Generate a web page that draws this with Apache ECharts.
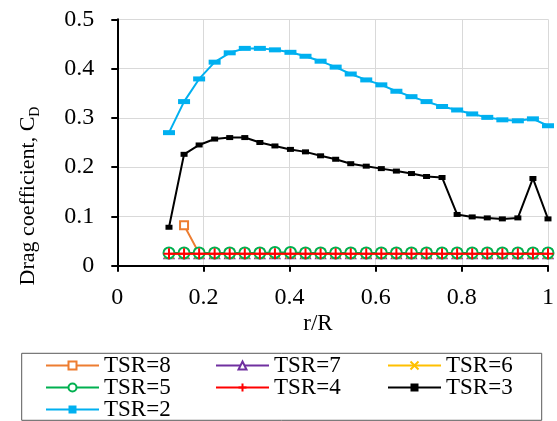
<!DOCTYPE html>
<html>
<head>
<meta charset="utf-8">
<script src="https://cdn.jsdelivr.net/npm/echarts@6/dist/echarts.min.js"></script>
<style>
  html, body { margin: 0; padding: 0; background: #fff; }
  #chart { width: 557px; height: 421px; }
</style>
</head>
<body>
<div id="chart"></div>
<script>
// Radial stations along the blade (r/R)
const rR = [0.12, 0.155, 0.19, 0.226, 0.261, 0.296, 0.331, 0.366, 0.402, 0.437,
            0.472, 0.507, 0.542, 0.578, 0.613, 0.648, 0.683, 0.718, 0.754, 0.789,
            0.824, 0.859, 0.894, 0.930, 0.965, 1.0];

// Drag coefficient per tip speed ratio
const tsr8 = [null, 0.082, 0.025, 0.025, 0.025, 0.025, 0.025, 0.025, 0.025, 0.025,
              0.025, 0.025, 0.025, 0.025, 0.025, 0.025, 0.025, 0.025, 0.025, 0.025,
              0.025, 0.025, 0.025, 0.025, 0.025, 0.025];
const tsr7 = [0.024, 0.024, 0.024, 0.024, 0.024, 0.024, 0.024, 0.024, 0.024, 0.024,
              0.024, 0.024, 0.024, 0.024, 0.024, 0.024, 0.024, 0.024, 0.024, 0.024,
              0.024, 0.024, 0.024, 0.024, 0.024, 0.024];
const tsr6 = [0.024, 0.024, 0.024, 0.024, 0.024, 0.024, 0.024, 0.024, 0.024, 0.024,
              0.024, 0.024, 0.024, 0.024, 0.024, 0.024, 0.024, 0.024, 0.024, 0.024,
              0.024, 0.024, 0.024, 0.024, 0.024, 0.024];
const tsr5 = [0.026, 0.026, 0.026, 0.026, 0.026, 0.026, 0.026, 0.027, 0.027, 0.026,
              0.026, 0.026, 0.026, 0.026, 0.026, 0.026, 0.026, 0.026, 0.026, 0.026,
              0.026, 0.026, 0.026, 0.026, 0.026, 0.026];
const tsr4 = [0.024, 0.024, 0.024, 0.024, 0.024, 0.024, 0.024, 0.024, 0.024, 0.024,
              0.024, 0.024, 0.024, 0.024, 0.024, 0.024, 0.024, 0.024, 0.024, 0.024,
              0.024, 0.024, 0.024, 0.024, 0.024, 0.024];
const tsr3 = [0.078, 0.226, 0.245, 0.257, 0.260, 0.260, 0.250, 0.243, 0.236, 0.231,
              0.223, 0.216, 0.207, 0.202, 0.197, 0.192, 0.187, 0.181, 0.179, 0.104,
              0.099, 0.097, 0.095, 0.097, 0.177, 0.095];
const tsr2 = [0.270, 0.333, 0.379, 0.413, 0.432, 0.441, 0.441, 0.438, 0.433, 0.425,
              0.415, 0.403, 0.389, 0.377, 0.367, 0.354, 0.343, 0.333, 0.323, 0.316,
              0.308, 0.301, 0.296, 0.294, 0.298, 0.284];

const seriesNames = ['TSR=8', 'TSR=7', 'TSR=6', 'TSR=5', 'TSR=4', 'TSR=3', 'TSR=2'];
const seriesValues = [tsr8, tsr7, tsr6, tsr5, tsr4, tsr3, tsr2];

// Axis ticks
const xTicks = [0, 0.2, 0.4, 0.6, 0.8, 1];
const yTicks = [0, 0.1, 0.2, 0.3, 0.4, 0.5];

const FONT = '"Liberation Serif", "Times New Roman", serif';

const styles = {
  'TSR=8': { color: '#ED7D31', symbol: 'rect', size: 8, hollow: true },
  'TSR=7': { color: '#7030A0', symbol: 'triangle', size: 9, hollow: true },
  'TSR=6': { color: '#FFC000', symbol: 'path://M0,0L10,10M10,0L0,10', size: 9, hollow: true },
  'TSR=5': { color: '#00B050', symbol: 'circle', size: 11, hollow: true },
  'TSR=4': { color: '#FF0000', symbol: 'path://M5,0L5,10M0,5L10,5', size: 11, hollow: true },
  'TSR=3': { color: '#000000', symbol: 'rect', size: [7, 5], hollow: false },
  'TSR=2': { color: '#00B0F0', symbol: 'rect', size: [12, 5], hollow: false }
};

function pairs(values) {
  const out = [];
  values.forEach((v, i) => { if (v !== null) out.push([rR[i], v]); });
  return out;
}

const series = seriesNames.map((name, k) => {
  const s = styles[name];
  return {
    name: name,
    type: 'line',
    data: pairs(seriesValues[k]),
    symbol: s.symbol,
    symbolSize: s.size,
    showAllSymbol: true,
    animation: false,
    lineStyle: { color: s.color, width: 2 },
    itemStyle: s.hollow
      ? { color: '#ffffff', borderColor: s.color, borderWidth: 2 }
      : { color: s.color, borderColor: s.color, borderWidth: 0 },
    emphasis: { disabled: true },
    z: 2 + k
  };
});

const legendText = { fontFamily: FONT, fontSize: 23, color: '#000', lineHeight: 21 };
function legendColumn(names, left) {
  return {
    data: names,
    orient: 'vertical',
    left: left,
    top: 354,
    height: 120,
    padding: 0,
    itemGap: -1,
    itemWidth: 53,
    itemHeight: 10,
    selectedMode: false,
    textStyle: legendText
  };
}

const chart = echarts.init(document.getElementById('chart'));
chart.setOption({
  backgroundColor: '#ffffff',
  animation: false,
  grid: { left: 117.3, right: 6.3, top: 19.3, bottom: 155.3 },
  xAxis: {
    type: 'value',
    min: xTicks[0],
    max: xTicks[xTicks.length - 1],
    interval: 0.2,
    axisLine: { onZero: false, lineStyle: { color: '#000', width: 2 } },
    axisTick: { show: true, length: 6, lineStyle: { color: '#000', width: 2 } },
    axisLabel: { fontFamily: FONT, fontSize: 24, color: '#000', margin: 20 },
    splitLine: { show: true, lineStyle: { color: '#D9D9D9', width: 1 } }
  },
  yAxis: {
    type: 'value',
    min: yTicks[0],
    max: yTicks[yTicks.length - 1],
    interval: 0.1,
    axisLine: { show: true, lineStyle: { color: '#000', width: 2 } },
    axisTick: { show: true, length: 6, lineStyle: { color: '#000', width: 2 } },
    axisLabel: { fontFamily: FONT, fontSize: 24, color: '#000', margin: 23 },
    splitLine: { show: true, lineStyle: { color: '#D9D9D9', width: 1 } }
  },
  legend: [
    legendColumn(['TSR=8', 'TSR=5', 'TSR=2'], 45),
    legendColumn(['TSR=7', 'TSR=4'], 215),
    legendColumn(['TSR=6', 'TSR=3'], 387)
  ],
  graphic: [
    {
      type: 'rect',
      shape: { x: 21.7, y: 353.3, width: 520, height: 67 },
      style: { fill: 'none', stroke: '#595959', lineWidth: 1 },
      silent: true
    },
    {
      type: 'text',
      x: 318, y: 324,
      style: {
        text: 'r/R', fontFamily: FONT, fontSize: 23, fill: '#000',
        align: 'center', verticalAlign: 'middle'
      },
      silent: true
    },
    {
      type: 'text',
      x: 28, y: 196,
      rotation: Math.PI / 2,
      style: {
        text: '{a|Drag coefficient, C}{b|D}',
        align: 'center', verticalAlign: 'middle',
        rich: {
          a: { fontFamily: FONT, fontSize: 22, fill: '#000', color: '#000' },
          b: { fontFamily: FONT, fontSize: 14, fill: '#000', color: '#000', padding: [14, 0, 0, 0] }
        }
      },
      silent: true
    }
  ],
  series: series
});
</script>
</body>
</html>
